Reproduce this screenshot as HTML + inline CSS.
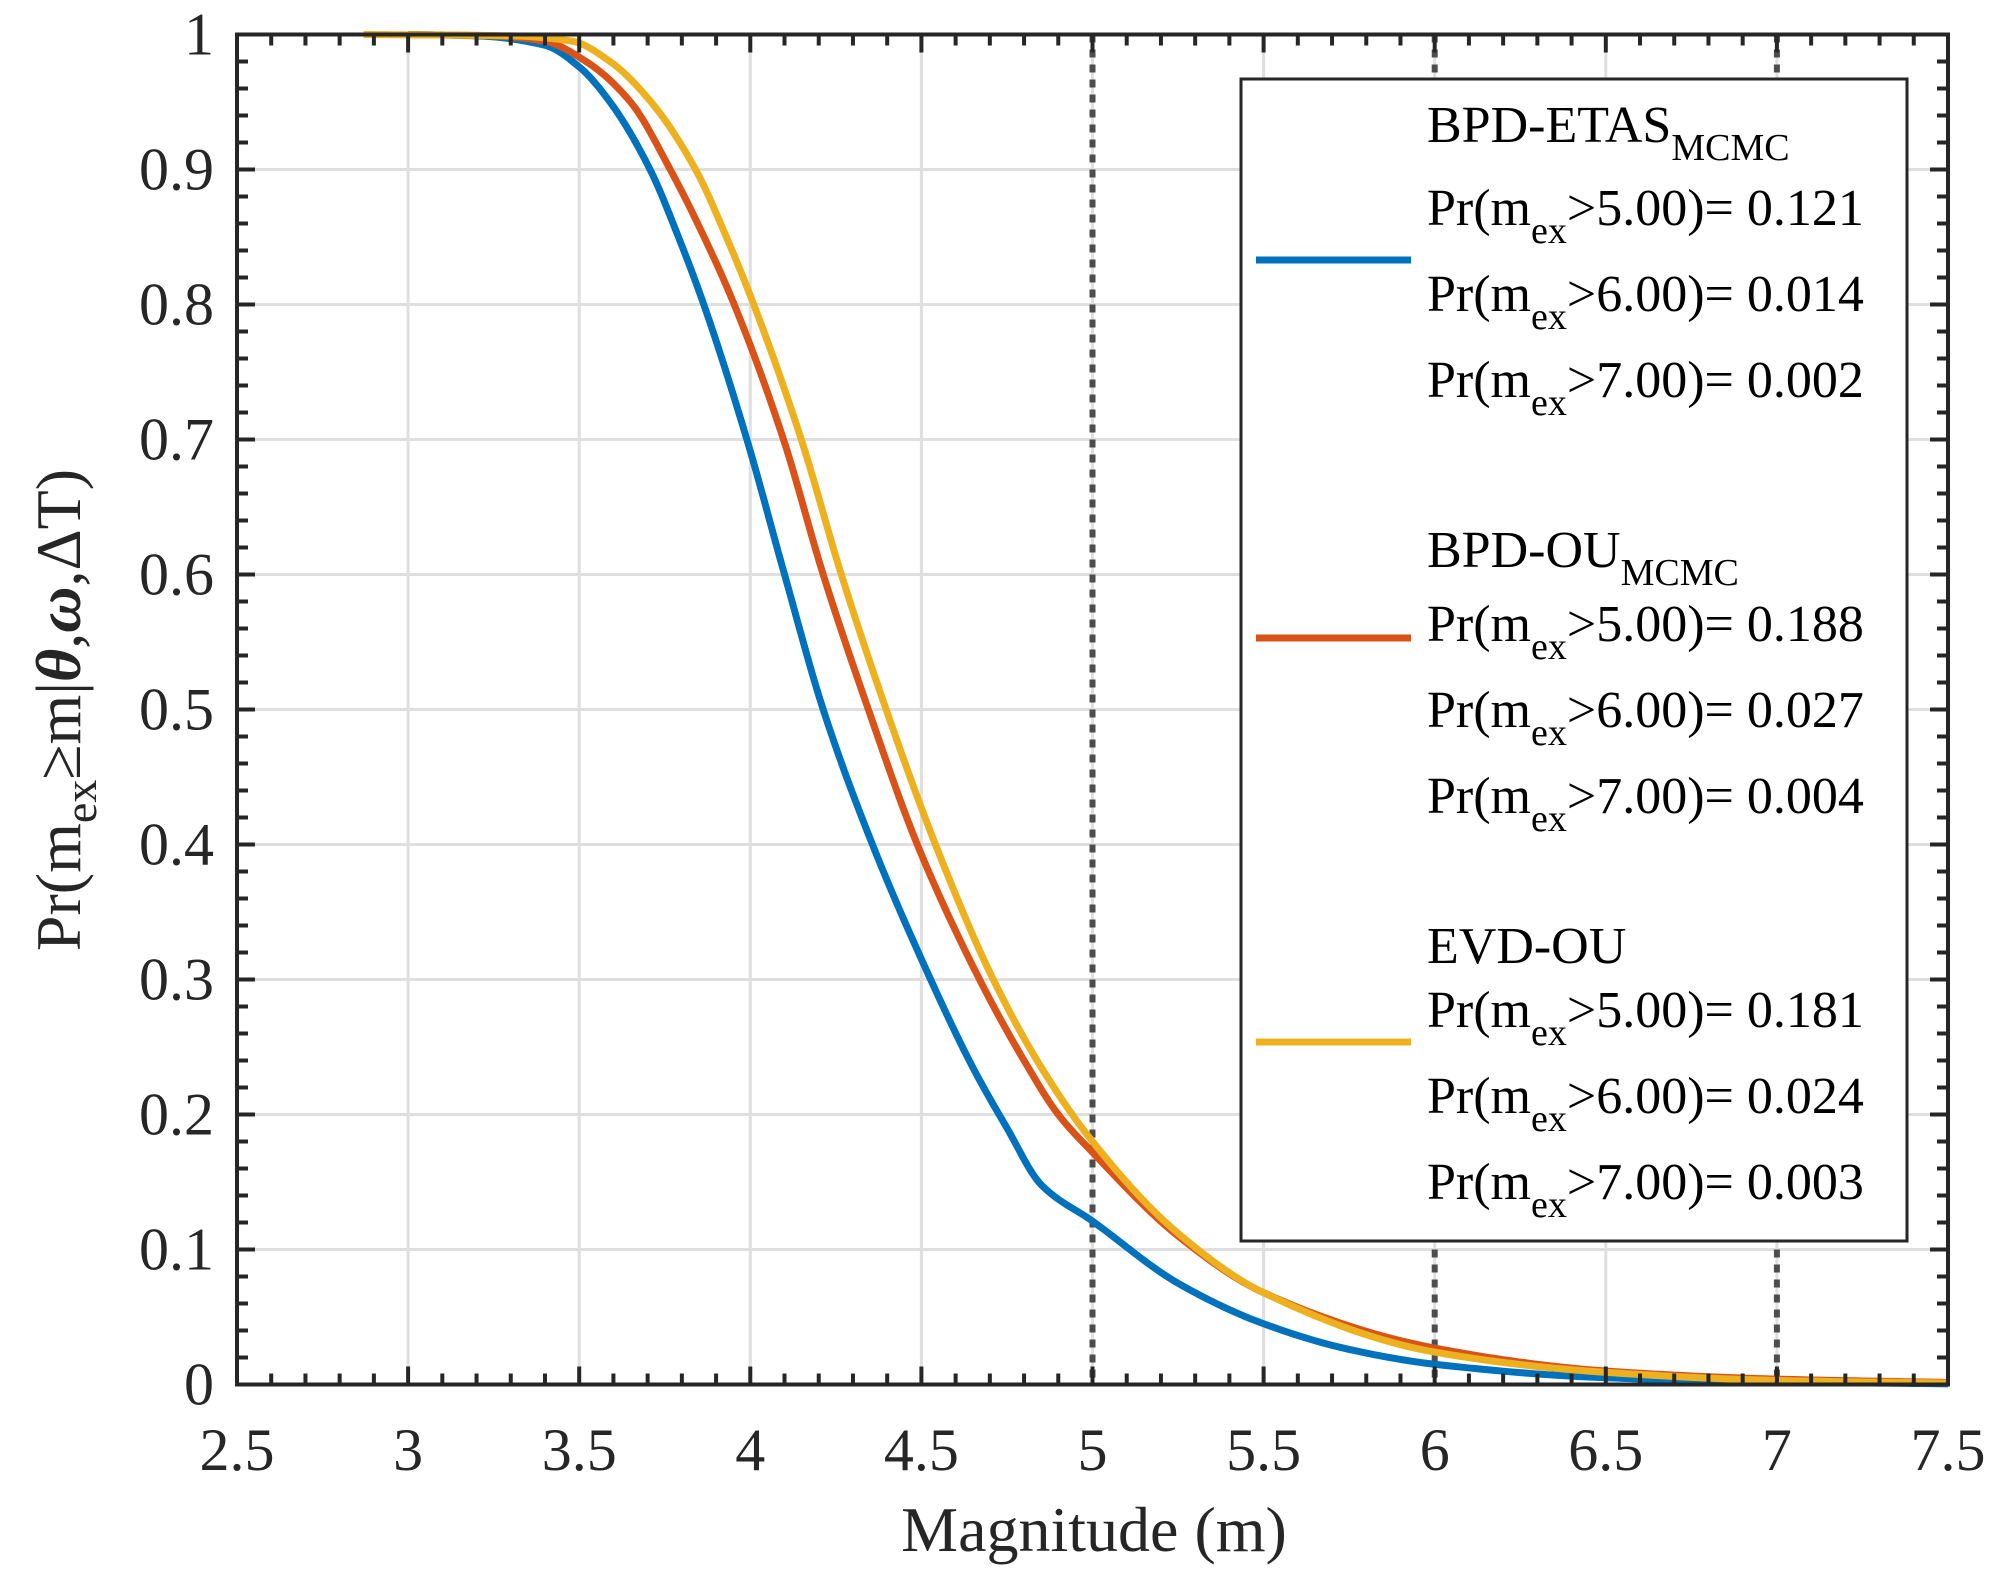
<!DOCTYPE html>
<html><head><meta charset="utf-8">
<style>
html,body{margin:0;padding:0;background:#fff;}
svg{display:block;font-family:"Liberation Serif","DejaVu Serif",serif;}
</style></head>
<body>
<svg id="chart" width="1995" height="1574" viewBox="0 0 1995 1574" xmlns="http://www.w3.org/2000/svg">
<rect x="0" y="0" width="1995" height="1574" fill="#fff"/>
<g id="grid"></g>
<g id="refs"></g>
<g id="series"></g>
<g id="axes"></g>
<g id="legend">
  <rect x="1241" y="79" width="666" height="1162" fill="#fff" stroke="#262626" stroke-width="3"/>
  <line x1="1256" y1="260" x2="1411" y2="260" stroke="#0072BD" stroke-width="7"/>
  <line x1="1256" y1="638" x2="1411" y2="638" stroke="#D95319" stroke-width="7"/>
  <line x1="1256" y1="1042" x2="1411" y2="1042" stroke="#EDB120" stroke-width="7"/>
  <g font-size="52" fill="#000">
    <text x="1427" y="142">BPD-ETAS<tspan font-size="38" dy="18">MCMC</tspan></text>
    <text x="1427" y="225">Pr(m<tspan font-size="38" dy="18">ex</tspan><tspan dy="-18">&gt;5.00)= 0.121</tspan></text>
    <text x="1427" y="311">Pr(m<tspan font-size="38" dy="18">ex</tspan><tspan dy="-18">&gt;6.00)= 0.014</tspan></text>
    <text x="1427" y="397">Pr(m<tspan font-size="38" dy="18">ex</tspan><tspan dy="-18">&gt;7.00)= 0.002</tspan></text>
    <text x="1427" y="567">BPD-OU<tspan font-size="38" dy="18">MCMC</tspan></text>
    <text x="1427" y="641">Pr(m<tspan font-size="38" dy="18">ex</tspan><tspan dy="-18">&gt;5.00)= 0.188</tspan></text>
    <text x="1427" y="727">Pr(m<tspan font-size="38" dy="18">ex</tspan><tspan dy="-18">&gt;6.00)= 0.027</tspan></text>
    <text x="1427" y="813">Pr(m<tspan font-size="38" dy="18">ex</tspan><tspan dy="-18">&gt;7.00)= 0.004</tspan></text>
    <text x="1427" y="963">EVD-OU</text>
    <text x="1427" y="1027">Pr(m<tspan font-size="38" dy="18">ex</tspan><tspan dy="-18">&gt;5.00)= 0.181</tspan></text>
    <text x="1427" y="1113">Pr(m<tspan font-size="38" dy="18">ex</tspan><tspan dy="-18">&gt;6.00)= 0.024</tspan></text>
    <text x="1427" y="1199">Pr(m<tspan font-size="38" dy="18">ex</tspan><tspan dy="-18">&gt;7.00)= 0.003</tspan></text>
  </g>
</g>
<text x="1094" y="1551" font-size="64" text-anchor="middle" fill="#262626">Magnitude (m)</text>
<text transform="translate(80,710) rotate(-90)" font-size="64" text-anchor="middle" fill="#262626">Pr(m<tspan font-size="46" dy="16">ex</tspan><tspan dy="-16">≥m|</tspan><tspan font-weight="bold" font-style="italic">θ</tspan>,<tspan font-weight="bold" font-style="italic">ω</tspan>,ΔT)</text>
</svg>
<script>
const xTicks = [2.5,3,3.5,4,4.5,5,5.5,6,6.5,7,7.5];
const xTickLabels = ["2.5","3","3.5","4","4.5","5","5.5","6","6.5","7","7.5"];
const yTicks = [0,0.1,0.2,0.3,0.4,0.5,0.6,0.7,0.8,0.9,1];
const yTickLabels = ["0","0.1","0.2","0.3","0.4","0.5","0.6","0.7","0.8","0.9","1"];
const refMagnitudes = [5,6,7];
const etasM = [3.0,3.2,3.4,3.5,3.59,3.707,3.79,3.864,3.99,4.10,4.213,4.357,4.527,4.65,4.75,4.85,5.0,5.25,5.5,5.75,6.0,6.5,7.0,7.5];
const etasP = [1,0.999,0.992,0.976,0.95,0.9,0.85,0.8,0.7,0.6,0.5,0.4,0.3,0.235,0.19,0.148,0.121,0.075,0.045,0.026,0.015,0.005,0.002,0.0005];
const ouM = [3.0,3.25,3.4,3.52,3.65,3.766,3.865,3.953,4.097,4.213,4.345,4.488,4.67,4.8,4.9,5.0,5.25,5.5,6.0,6.5,7.0,7.5];
const ouP = [1,0.999,0.995,0.98,0.95,0.9,0.85,0.8,0.7,0.6,0.5,0.4,0.3,0.24,0.2,0.172,0.11,0.068,0.027,0.01,0.004,0.0015];
const evdM = [2.87,3.3,3.48,3.59,3.71,3.84,3.93,4.01,4.149,4.266,4.397,4.541,4.71,4.85,5.0,5.25,5.5,6.0,6.5,7.0,7.5];
const evdP = [1,0.999,0.995,0.98,0.95,0.9,0.85,0.8,0.7,0.6,0.5,0.4,0.3,0.235,0.18,0.112,0.068,0.024,0.009,0.003,0.001];

const L=237,R=1948,T=34.5,B=1384.5;
function sx(v){return L+(v-2.5)/5*(R-L);}
function sy(v){return B-v*(B-T);}
const NS="http://www.w3.org/2000/svg";
function mk(tag,parent,attrs){const e=document.createElementNS(NS,tag);for(const k in attrs)e.setAttribute(k,attrs[k]);parent.appendChild(e);return e;}
const grid=document.getElementById('grid'),axes=document.getElementById('axes'),refs=document.getElementById('refs'),series=document.getElementById('series');
xTicks.forEach((v,i)=>{
  if(i>0&&i<xTicks.length-1){const g=mk('line',grid,{x1:sx(v),x2:sx(v),y1:T,y2:B,stroke:'#dfdfdf','stroke-width':3});
  
  }
  const t=mk('text',axes,{x:sx(v),y:1470,'font-size':60,'text-anchor':'middle',fill:'#262626'});
  t.textContent=xTickLabels[i];
  
  
});
yTicks.forEach((v,i)=>{
  if(i>0&&i<yTicks.length-1){const g=mk('line',grid,{x1:L,x2:R,y1:sy(v),y2:sy(v),stroke:'#dfdfdf','stroke-width':3});
  
  }
  const t=mk('text',axes,{x:214,y:sy(v)+20,'font-size':60,'text-anchor':'end',fill:'#262626'});
  t.textContent=yTickLabels[i];
  
  
});
refMagnitudes.forEach(v=>{
  const l=mk('line',refs,{x1:sx(v),x2:sx(v),y1:T,y2:B,stroke:'#4d4d4d','stroke-width':6,'stroke-dasharray':'8 7'});
  
  
});
function pathFor(ms,ps){
  const n=ms.length,d=[],m=new Array(n);
  for(let i=0;i<n-1;i++)d.push((ps[i+1]-ps[i])/(ms[i+1]-ms[i]));
  m[0]=d[0];m[n-1]=d[n-2];
  for(let i=1;i<n-1;i++){
    if(d[i-1]*d[i]<=0)m[i]=0;
    else{const h0=ms[i]-ms[i-1],h1=ms[i+1]-ms[i];const w1=2*h1+h0,w2=h1+2*h0;m[i]=(w1+w2)/(w1/d[i-1]+w2/d[i]);}
  }
  let s='M'+sx(ms[0]).toFixed(2)+','+sy(ps[0]).toFixed(2);
  for(let i=0;i<n-1;i++){
    const h=ms[i+1]-ms[i],steps=20;
    for(let k=1;k<=steps;k++){
      const t=k/steps,t2=t*t,t3=t2*t;
      const v=(2*t3-3*t2+1)*ps[i]+(t3-2*t2+t)*h*m[i]+(-2*t3+3*t2)*ps[i+1]+(t3-t2)*h*m[i+1];
      s+=' L'+sx(ms[i]+t*h).toFixed(2)+','+sy(v).toFixed(2);
    }
  }
  return s;
}
const s1=mk('path',series,{d:pathFor(etasM,etasP),fill:'none',stroke:'#0072BD','stroke-width':7,'stroke-linejoin':'round'});


const s2=mk('path',series,{d:pathFor(ouM,ouP),fill:'none',stroke:'#D95319','stroke-width':7,'stroke-linejoin':'round'});


const s3=mk('path',series,{d:pathFor(evdM,evdP),fill:'none',stroke:'#EDB120','stroke-width':7,'stroke-linejoin':'round'});


const box=mk('rect',axes,{x:L,y:T,width:R-L,height:B-T,fill:'none',stroke:'#262626','stroke-width':4});


let td='';
for(let k=0;k<=50;k++){const x=sx(2.5+k*0.1);const len=(k%5===0)?18:11;
  td+=`M${x},${B}V${B-len}M${x},${T}V${T+len}`;}
for(let k=0;k<=50;k++){const y=sy(k*0.02);const len=(k%5===0)?18:11;
  td+=`M${L},${y}H${L+len}M${R},${y}H${R-len}`;}
const ticks=mk('path',axes,{d:td,stroke:'#262626','stroke-width':4,fill:'none'});


</script>
</body></html>
